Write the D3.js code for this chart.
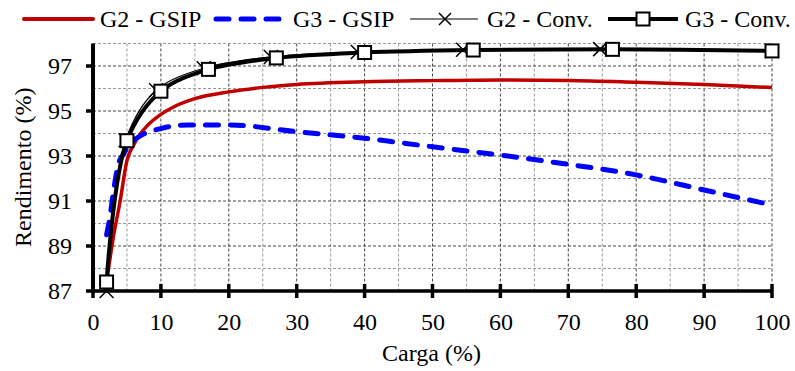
<!DOCTYPE html>
<html><head><meta charset="utf-8">
<script src="https://cdn.jsdelivr.net/npm/d3@7"></script>
</head>
<body style="margin:0">
<svg id="c" width="795" height="371" font-family="Liberation Serif"></svg>
<script>
// ---- data ----
const seriesNames = ["G2 - GSIP", "G3 - GSIP", "G2 - Conv.", "G3 - Conv."];
const g2GsipX = [2, 3, 4, 5, 6, 7, 8, 10, 12, 15, 20, 25, 30, 40, 50, 60, 70, 80, 90, 100];
const g2GsipY = [87.4, 89.4, 91.0, 92.8, 93.5, 94.0, 94.35, 94.85, 95.2, 95.55, 95.85, 96.05, 96.18, 96.3, 96.35, 96.38, 96.36, 96.28, 96.18, 96.04];
const g3GsipX = [2, 2.5, 3, 3.7, 4.5, 5.5, 7, 10, 14, 20, 30, 40, 45, 50, 60, 70, 80, 90, 100];
const g3GsipY = [89.5, 90.3, 91.4, 92.6, 93.1, 93.55, 93.9, 94.22, 94.38, 94.38, 94.08, 93.79, 93.6, 93.41, 93.04, 92.63, 92.16, 91.49, 90.82];
const g2ConvX = [2, 4.8, 9.3, 16.3, 26.2, 39, 54.5, 74.7, 100];
const g2ConvY = [87.0, 93.7, 95.92, 96.9, 97.4, 97.62, 97.72, 97.75, 97.67];
const g3ConvX = [2, 5, 10, 17, 27, 40, 56, 76.5, 100];
const g3ConvY = [87.4, 93.68, 95.88, 96.85, 97.36, 97.6, 97.71, 97.74, 97.67];
const xTicks = [0, 10, 20, 30, 40, 50, 60, 70, 80, 90, 100];
const yTicks = [87, 89, 91, 93, 95, 97];
const xTitle = "Carga (%)";
const yTitle = "Rendimento (%)";

const svg = d3.select("#c");
const sx = d3.scaleLinear().domain([0, 100]).range([93, 772]);
const sy = d3.scaleLinear().domain([87, 98]).range([291, 43.5]);

function label(sel) {
  return sel.attr("font-size", 24).attr("fill", "#000")
    .attr("font-family", "Liberation Serif").style("font-family", '"Liberation Serif"');
}

// grid
const grid = svg.append("g");
d3.range(5, 101, 5).forEach(v => {
  const major = v % 10 === 0;
  grid.append("line").attr("x1", sx(v)).attr("x2", sx(v)).attr("y1", sy(98)).attr("y2", sy(87))
    .attr("stroke", major ? "#444" : "#999").attr("stroke-width", 1).attr("stroke-dasharray", "3,2");
});
d3.range(88, 98.5, 1).forEach(v => {
  const major = (v % 2 === 1);
  grid.append("line").attr("x1", sx(0)).attr("x2", sx(100)).attr("y1", sy(v)).attr("y2", sy(v))
    .attr("stroke", major ? "#444" : "#999").attr("stroke-width", 1).attr("stroke-dasharray", "3,2");
});

// axes
const xAxis = svg.append("g").attr("transform", `translate(0,${sy(87)})`)
  .call(d3.axisBottom(sx).tickValues(xTicks).tickSize(0).tickPadding(22));
xAxis.select(".domain").remove();
xAxis.attr("font-family", "Liberation Serif").attr("font-size", 24);
label(xAxis.selectAll("text"));
const yAxis = svg.append("g").attr("transform", `translate(${sx(0)},0)`)
  .call(d3.axisLeft(sy).tickValues(yTicks).tickSize(0).tickPadding(21));
yAxis.select(".domain").remove();
yAxis.attr("font-family", "Liberation Serif").attr("font-size", 24);
label(yAxis.selectAll("text"));

svg.append("line").attr("x1", sx(0)).attr("x2", sx(100)).attr("y1", sy(87)).attr("y2", sy(87))
  .attr("stroke", "#000").attr("stroke-width", 3.5);
svg.append("line").attr("x1", sx(0)).attr("x2", sx(0)).attr("y1", sy(98)).attr("y2", sy(87) + 2)
  .attr("stroke", "#000").attr("stroke-width", 4);
xTicks.forEach(v => svg.append("line").attr("x1", sx(v)).attr("x2", sx(v)).attr("y1", sy(87) - 7).attr("y2", sy(87) + 7)
  .attr("stroke", "#000").attr("stroke-width", 3.5));
yTicks.forEach(v => svg.append("line").attr("x1", sx(0) - 7).attr("x2", sx(0) + 2).attr("y1", sy(v)).attr("y2", sy(v))
  .attr("stroke", "#000").attr("stroke-width", 3.5));

// titles
label(svg.append("text").attr("x", (sx(0) + sx(100)) / 2 - 1).attr("y", 361).attr("text-anchor", "middle")).text(xTitle);
label(svg.append("text").attr("transform", `translate(31,${(sy(87) + sy(98)) / 2}) rotate(-90)`)
  .attr("text-anchor", "middle")).text(yTitle);

// lines
const mk = (xs, ys) => xs.map((v, i) => [v, ys[i]]);
const lineM = d3.line().x(d => sx(d[0])).y(d => sy(d[1])).curve(d3.curveMonotoneX);
const lineC = d3.line().x(d => sx(d[0])).y(d => sy(d[1])).curve(d3.curveCatmullRom.alpha(0.5));

svg.append("path").attr("d", lineM(mk(g2GsipX, g2GsipY))).attr("fill", "none")
  .attr("stroke", "#C00000").attr("stroke-width", 3.5);
svg.append("path").attr("d", lineM(mk(g3GsipX, g3GsipY))).attr("fill", "none")
  .attr("stroke", "#0000FF").attr("stroke-width", 5).attr("stroke-dasharray", "13,12").attr("stroke-linecap", "round");
const g2c = mk(g2ConvX, g2ConvY);
svg.append("path").attr("d", lineC(g2c)).attr("fill", "none").attr("stroke", "#000").attr("stroke-width", 1.2);
const xm = 7;
g2c.forEach(d => {
  const cx = sx(d[0]), cy = sy(d[1]);
  svg.append("path").attr("d", `M${cx - xm},${cy - xm}L${cx + xm},${cy + xm}M${cx - xm},${cy + xm}L${cx + xm},${cy - xm}`)
    .attr("stroke", "#000").attr("stroke-width", 1.5).attr("fill", "none");
});
const g3c = mk(g3ConvX, g3ConvY);
svg.append("path").attr("d", lineC(g3c)).attr("fill", "none").attr("stroke", "#000").attr("stroke-width", 4);
g3c.forEach(d => {
  svg.append("rect").attr("x", sx(d[0]) - 6.5).attr("y", sy(d[1]) - 6.5).attr("width", 13).attr("height", 13)
    .attr("fill", "#fff").attr("stroke", "#000").attr("stroke-width", 2);
});

// legend
const lg = svg.append("g");
const ly = 19, ty = 27;
lg.append("line").attr("x1", 24).attr("x2", 93).attr("y1", ly).attr("y2", ly).attr("stroke", "#C00000").attr("stroke-width", 4).attr("stroke-linecap", "round");
label(lg.append("text").attr("x", 100).attr("y", ty)).text(seriesNames[0]);
lg.append("line").attr("x1", 216).attr("x2", 286).attr("y1", ly).attr("y2", ly).attr("stroke", "#0000FF").attr("stroke-width", 5)
  .attr("stroke-dasharray", "13,12").attr("stroke-linecap", "round");
label(lg.append("text").attr("x", 293).attr("y", ty)).text(seriesNames[1]);
lg.append("line").attr("x1", 410).attr("x2", 478).attr("y1", ly).attr("y2", ly).attr("stroke", "#000").attr("stroke-width", 1.2);
lg.append("path").attr("d", `M${445 - 6},${ly - 6}L${445 + 6},${ly + 6}M${445 - 6},${ly + 6}L${445 + 6},${ly - 6}`).attr("stroke", "#000").attr("stroke-width", 1.5);
label(lg.append("text").attr("x", 487).attr("y", ty)).text(seriesNames[2]);
lg.append("line").attr("x1", 608).attr("x2", 678).attr("y1", ly).attr("y2", ly).attr("stroke", "#000").attr("stroke-width", 4);
lg.append("rect").attr("x", 643 - 6.5).attr("y", ly - 6.5).attr("width", 13).attr("height", 13).attr("fill", "#fff").attr("stroke", "#000").attr("stroke-width", 2);
label(lg.append("text").attr("x", 685).attr("y", ty)).text(seriesNames[3]);
</script></body></html>
